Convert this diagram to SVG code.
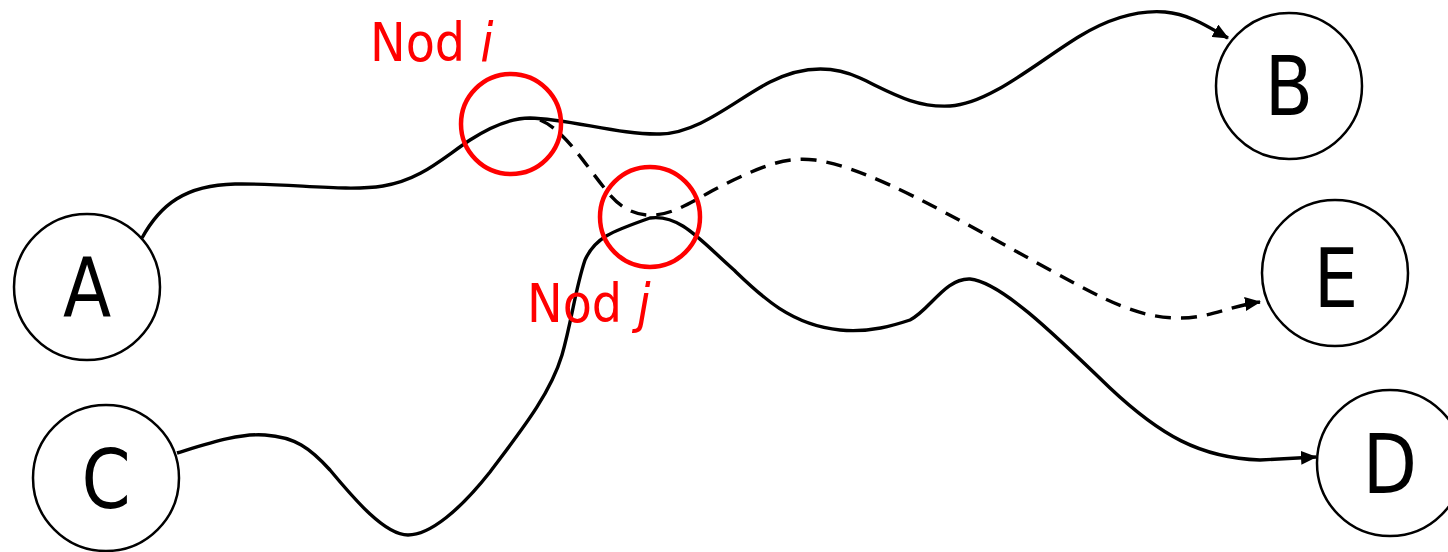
<svg xmlns="http://www.w3.org/2000/svg" width="1448" height="552" viewBox="0 0 1448 552">
<style>
.node{fill:#fff;stroke:#000;stroke-width:2.5}
.lbl{font-family:"DejaVu Sans","Liberation Sans",sans-serif;font-size:82px;fill:#000;text-anchor:middle}
.rc{fill:none;stroke:#f00;stroke-width:4.5}
.rt{font-family:"DejaVu Sans","Liberation Sans",sans-serif;font-stretch:condensed;font-size:53px;fill:#f00}
.edge{fill:none;stroke:#000;stroke-width:3.4}
.dash{stroke-dasharray:16 10}
</style>
<defs>
<marker id="arr" markerUnits="userSpaceOnUse" markerWidth="16" markerHeight="14" refX="15" refY="7" orient="auto">
<path d="M0,0 L16,7 L0,14 Z" fill="#000"/>
</marker>
</defs>
<g id="connectors">
<path class="edge" marker-end="url(#arr)" d="M142,238 C160,205 185,185 235,184 C290,183 345,192 383,186 C420,180 440,160 470,140 C490,127 510,118 530,118 C570,119 620,135 660,134 C700,133 735,100 770,82 C800,67 830,64 860,78 C890,92 915,108 950,106 C990,104 1040,60 1080,36 C1110,18 1140,10 1165,12 C1190,14 1210,28 1228,38"/>
<path class="edge dash" marker-end="url(#arr)" d="M540,120 C565,130 585,165 610,195 C625,212 640,216 655,215 C680,213 700,195 740,177 C770,163 790,157 815,160 C870,168 950,215 1050,270 C1110,303 1140,318 1180,318 C1210,318 1230,306 1260,302"/>
<path class="edge" marker-end="url(#arr)" d="M177,453 C210,443 240,433 265,435 C295,437 310,448 330,470 C355,500 385,535 408,535 C430,535 460,510 490,472 C520,432 550,395 562,355 C572,320 575,290 585,260 C595,238 610,232 650,218 C680,214 700,240 734,270 C760,295 790,325 840,330 C870,333 895,325 910,320 C930,310 945,278 970,279 C1000,282 1050,330 1110,388 C1160,435 1200,458 1260,460 L1316,457"/>
</g>
<g id="node-A"><circle class="node" cx="87" cy="287" r="73"/><text class="lbl" transform="translate(87,316) scale(0.86,1)">A</text></g>
<g id="node-B"><circle class="node" cx="1289" cy="86" r="73"/><text class="lbl" transform="translate(1289,115) scale(0.86,1)">B</text></g>
<g id="node-E"><circle class="node" cx="1335" cy="273" r="73"/><text class="lbl" transform="translate(1336,307) scale(0.86,1)">E</text></g>
<g id="node-D"><circle class="node" cx="1390" cy="463" r="73"/><text class="lbl" transform="translate(1390,493) scale(0.86,1)">D</text></g>
<g id="node-C"><circle class="node" cx="106" cy="478" r="73"/><text class="lbl" transform="translate(106,508) scale(0.86,1)">C</text></g>
<g id="node-i"><circle class="rc" cx="511" cy="124" r="50"/><text class="rt" x="370" y="61">Nod <tspan font-style="italic">i</tspan></text></g>
<g id="node-j"><circle class="rc" cx="650" cy="217" r="50"/><text class="rt" x="527" y="322">Nod <tspan font-style="italic">j</tspan></text></g>
</svg>
